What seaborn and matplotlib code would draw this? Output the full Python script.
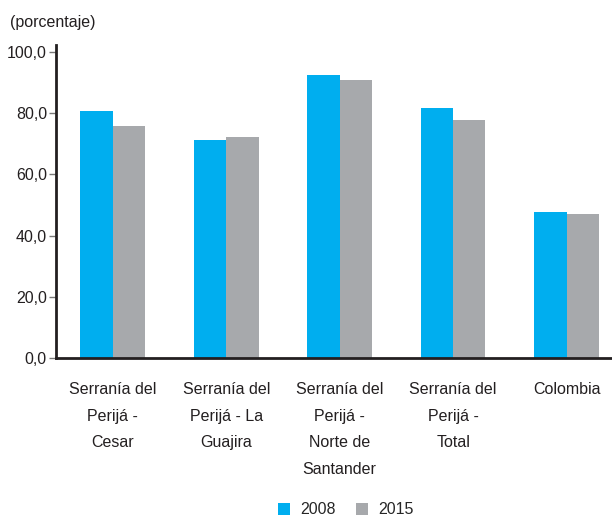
import pandas as pd
import matplotlib.pyplot as plt
import seaborn as sns
from matplotlib.ticker import FuncFormatter

# Data
regiones = [
    "Serranía del\nPerijá -\nCesar",
    "Serranía del\nPerijá - La\nGuajira",
    "Serranía del\nPerijá -\nNorte de\nSantander",
    "Serranía del\nPerijá -\nTotal",
    "Colombia",
]
valores_2008 = [80.8, 71.2, 92.6, 81.6, 47.6]
valores_2015 = [75.8, 72.1, 90.7, 77.7, 47.0]
anios = ["2008", "2015"]
colores = ["#00AEEF", "#A7A9AC"]

df = pd.DataFrame({
    "Region": regiones * 2,
    "Anio": [anios[0]] * len(regiones) + [anios[1]] * len(regiones),
    "Valor": valores_2008 + valores_2015,
})

sns.set_style("white")
plt.rcParams['font.family'] = ['Liberation Sans', 'DejaVu Sans']
fs = 11.5

fig = plt.figure(figsize=(6.12, 5.16), dpi=100)
ax = fig.add_axes([0.0915, 0.306, 0.9085, 0.607])

sns.barplot(
    data=df, x="Region", y="Valor", hue="Anio",
    palette=colores, width=0.57, gap=0, saturation=1,
    edgecolor="none", ax=ax,
)

ax.set_xlim(-0.5, 4.4)
ax.set_ylim(0, 102.3)
ax.set_yticks([0, 20, 40, 60, 80, 100])
ax.yaxis.set_major_formatter(FuncFormatter(lambda v, p: f"{v:.1f}".replace(".", ",")))
ax.set_xlabel("")
ax.set_ylabel("")

for s in ["top", "right"]:
    ax.spines[s].set_visible(False)
ax.spines["left"].set_color("#231f20")
ax.spines["left"].set_linewidth(2)
ax.spines["bottom"].set_color("#231f20")
ax.spines["bottom"].set_linewidth(2)

ax.tick_params(axis="y", left=True, length=5, width=1, color="#777777",
               labelsize=fs, labelcolor="#231f20", pad=1.5)
ax.tick_params(axis="x", bottom=False, labelsize=fs, labelcolor="#231f20", pad=14)
for lbl in ax.get_xticklabels():
    lbl.set_linespacing(1.95)
    lbl.set_verticalalignment("top")

fig.text(0.016, 0.957, "(porcentaje)", fontsize=fs, color="#231f20", va="center")

handles, labels = ax.get_legend_handles_labels()
ax.legend(handles, labels, loc="center", bbox_to_anchor=(0.565, 0.012),
          bbox_transform=fig.transFigure, ncol=2, frameon=False,
          fontsize=fs, handlelength=0.75, handleheight=0.75,
          handletextpad=0.6, columnspacing=1.3)

fig.savefig("out.png", dpi=100)
